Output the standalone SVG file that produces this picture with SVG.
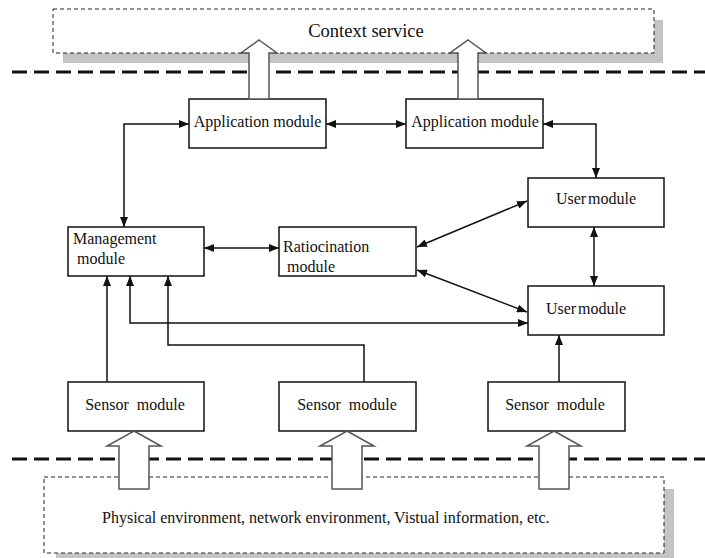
<svg xmlns="http://www.w3.org/2000/svg" width="705" height="558" viewBox="0 0 705 558" font-family="'Liberation Serif', 'DejaVu Serif', serif">
<style>
text{font-family:'Liberation Serif','DejaVu Serif',serif;font-size:16px;fill:#111}
.box{fill:#fff;stroke:#111;stroke-width:1.5}
.dbox{fill:#fff;stroke:#222;stroke-width:1;stroke-dasharray:4 3}
.shadow{fill:#c4c4c4}
.sep{stroke:#111;stroke-width:3;stroke-dasharray:15 7;fill:none}
.blk{fill:#fff;stroke:#555;stroke-width:1.5;stroke-linejoin:miter}
.c{fill:none;stroke:#111;stroke-width:1.5}
.m{text-anchor:middle}
</style>
<defs>
<marker id="ah" viewBox="0 0 10 8" refX="10" refY="4" markerWidth="10" markerHeight="8" markerUnits="userSpaceOnUse" orient="auto-start-reverse">
<path d="M0,0 L10,4 L0,8 z" fill="#111"/>
</marker>
</defs>

<g id="context-service">
<rect class="shadow" x="63" y="20" width="600" height="43"/>
<rect class="dbox" x="53" y="9" width="601" height="44"/>
<text x="366" y="37" class="m" style="font-size:18.5px">Context service</text>
</g>

<g id="environment">
<rect class="shadow" x="56" y="489" width="618" height="75"/>
<rect class="dbox" x="44" y="477" width="620" height="76"/>
<text x="102" y="523">Physical environment, network environment, Vistual information, etc.</text>
</g>

<line class="sep" x1="12" y1="72" x2="705" y2="72"/>
<line class="sep" x1="12" y1="459" x2="705" y2="459"/>

<g id="app1">
<rect class="box" x="189" y="99" width="137" height="49"/>
<text x="257.5" y="127" class="m">Application module</text>
</g>
<g id="app2">
<rect class="box" x="406" y="99" width="137" height="49"/>
<text x="475" y="127" class="m">Application module</text>
</g>
<g id="user1">
<rect class="box" x="528" y="178" width="136" height="49"/>
<text x="596" y="204" class="m" word-spacing="-2">User module</text>
</g>
<g id="user2">
<rect class="box" x="528" y="286" width="136" height="49"/>
<text x="586" y="314" class="m" word-spacing="-2">User module</text>
</g>
<g id="management">
<rect class="box" x="68" y="227" width="136" height="49"/>
<text x="73" y="244">Management</text>
<text x="77" y="264">module</text>
</g>
<g id="ratiocination">
<rect class="box" x="279" y="227" width="137" height="49"/>
<text x="283" y="252">Ratiocination</text>
<text x="287" y="272">module</text>
</g>
<g id="sensor1">
<rect class="box" x="68" y="382" width="136" height="49"/>
<text x="135" y="410" class="m" xml:space="preserve">Sensor  module</text>
</g>
<g id="sensor2">
<rect class="box" x="279" y="382" width="137" height="49"/>
<text x="347" y="410" class="m" xml:space="preserve">Sensor  module</text>
</g>
<g id="sensor3">
<rect class="box" x="488" y="382" width="137" height="49"/>
<text x="555" y="410" class="m" xml:space="preserve">Sensor  module</text>
</g>

<g id="connectors">
<path class="blk" d="M259,40 L277,53 L269,53 L269,99 L249,99 L249,53 L241,53 Z"/>
<path class="blk" d="M468,40 L486,53 L478,53 L478,99 L458,99 L458,53 L450,53 Z"/>
<path class="blk" d="M134,431 L161,446 L149,446 L149,489 L119,489 L119,446 L107,446 Z"/>
<path class="blk" d="M347,431 L374,446 L362,446 L362,489 L332,489 L332,446 L320,446 Z"/>
<path class="blk" d="M554,431 L581,446 L569,446 L569,489 L539,489 L539,446 L527,446 Z"/>

<path class="c" d="M124,227 L124,124 L189,124" marker-start="url(#ah)" marker-end="url(#ah)"/>
<path class="c" d="M326,124 L406,124" marker-start="url(#ah)" marker-end="url(#ah)"/>
<path class="c" d="M543,124 L596,124 L596,178" marker-start="url(#ah)" marker-end="url(#ah)"/>
<path class="c" d="M204,248 L279,248" marker-start="url(#ah)" marker-end="url(#ah)"/>
<path class="c" d="M417,247 L527,201" marker-start="url(#ah)" marker-end="url(#ah)"/>
<path class="c" d="M417,270 L527,312" marker-start="url(#ah)" marker-end="url(#ah)"/>
<path class="c" d="M594,227 L594,286" marker-start="url(#ah)" marker-end="url(#ah)"/>
<path class="c" d="M107,382 L107,276" marker-end="url(#ah)"/>
<path class="c" d="M130,276 L130,323 L528,323" marker-start="url(#ah)" marker-end="url(#ah)"/>
<path class="c" d="M364,382 L364,345 L168,345 L168,276" marker-end="url(#ah)"/>
<path class="c" d="M559,382 L559,335" marker-end="url(#ah)"/>
</g>
</svg>
